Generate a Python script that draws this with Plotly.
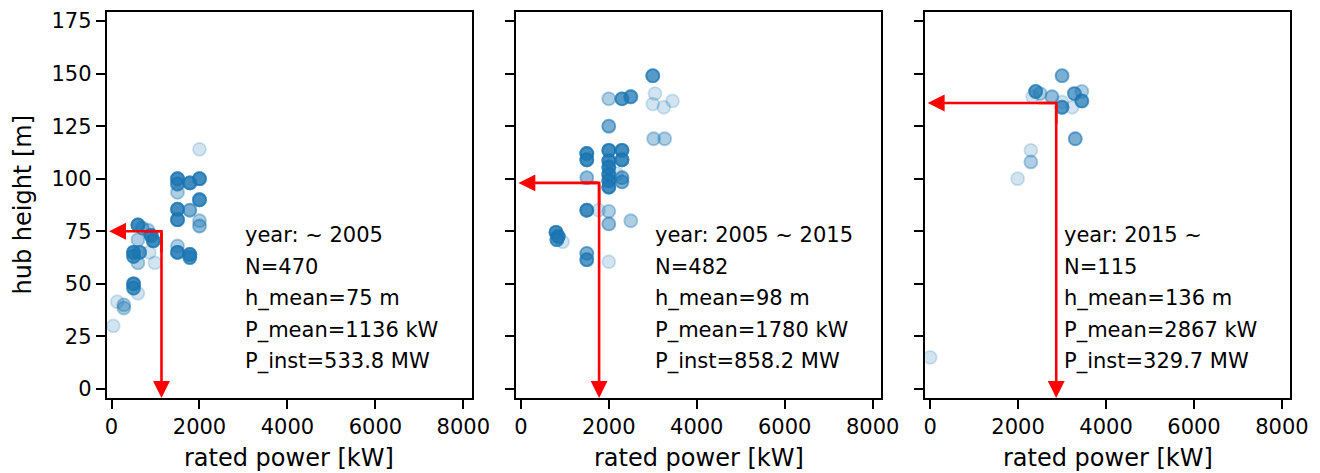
import numpy as np
import plotly.graph_objects as go

# ---------------- data ----------------
periods = ["year: ~ 2005", "year: 2005 ~ 2015", "year: 2015 ~"]
n_turbines = [470, 482, 115]
h_mean = [75, 98, 136]
p_mean = [1136, 1780, 2867]
p_inst = [533.8, 858.2, 329.7]

# panel 1 (~2005): rated power [kW], hub height [m], number of overlapping turbines
p1_power = [2000, 1500, 1500, 1780, 2000, 1500, 2000, 1500, 1780, 1500, 2000, 2000,
            1500, 1500, 1780, 1780, 600, 700, 830, 900, 950, 600, 500, 500, 640, 860,
            600, 985, 500, 500, 600, 130, 280, 280, 40]
p1_height = [114, 100, 97.5, 98, 100, 93.5, 90, 85.5, 85, 80.5, 80, 77.5,
             68, 65, 64, 62.5, 78, 76.5, 75.5, 73, 70.5, 71, 65, 63, 65, 65,
             60, 60, 50, 48, 45.5, 41.5, 40, 38.5, 30]
p1_count = [1, 8, 6, 8, 8, 2, 8, 8, 4, 8, 2, 3,
            2, 8, 8, 6, 8, 3, 2, 8, 8, 2, 8, 6, 6, 1,
            2, 1, 8, 6, 1, 1, 2, 2, 1]

# panel 2 (2005 ~ 2015)
p2_power = [3000, 3050, 3000, 3250, 3450, 2000, 2300, 2500, 3020, 3270, 2000,
            1500, 1500, 2000, 2000, 2000, 2000, 2000, 2000, 2300, 2300, 2300, 2300,
            2180, 1500, 1500, 1770, 2000, 2000, 2500, 800, 850, 820, 950, 1500, 1500, 2000]
p2_height = [149, 140.5, 135.5, 134, 137, 138, 138, 139, 119, 119, 125,
             112, 109, 113.5, 108.5, 105.5, 102, 99, 96, 113.5, 109, 100.5, 98.5,
             102.5, 100.5, 85, 85, 84.5, 78.5, 80, 74.5, 72.5, 71, 70, 64.5, 61.5, 60.5]
p2_count = [6, 1, 1, 1, 1, 2, 6, 6, 2, 2, 4,
            8, 8, 8, 8, 8, 8, 8, 8, 8, 8, 4, 4,
            1, 3, 8, 1, 2, 3, 2, 8, 8, 6, 1, 4, 6, 1]

# panel 3 (2015 ~)
p3_power = [3000, 2400, 2330, 2500, 2770, 3000, 3000, 3230, 3280, 3450, 3450,
            3300, 2290, 2290, 1990, 0]
p3_height = [149, 141.5, 139, 140.5, 139, 136.5, 134, 134, 140.5, 141.5, 137,
             119, 113.5, 108, 100, 15]
p3_count = [4, 6, 1, 2, 3, 1, 6, 1, 5, 2, 6,
            4, 1, 2, 1, 1]

x_ticks = [0, 2000, 4000, 6000, 8000]
y_ticks = [0, 25, 50, 75, 100, 125, 150, 175]

# ---------------- layout constants ----------------
W, H = 1320, 473
X_RANGE = [-110, 8190]
Y_RANGE = [-4.3, 179.3]
panels_px = [(106.7, 471.7), (516.0, 881.0), (925.3, 1290.3)]
top_px, bot_px = 12, 398
FONT = "DejaVu Sans"
BLUE = "rgba(31,119,180,0.2)"
TICK_SIZE, TEXT_SIZE, TITLE_SIZE = 21, 21, 24

fig = go.Figure()
powers = [p1_power, p2_power, p3_power]
heights = [p1_height, p2_height, p3_height]
counts = [p1_count, p2_count, p3_count]

annotations = []
for i in range(3):
    xs = np.repeat(np.array(powers[i], dtype=float), counts[i])
    ys = np.repeat(np.array(heights[i], dtype=float), counts[i])
    sfx = "" if i == 0 else str(i + 1)
    fig.add_trace(go.Scatter(
        x=xs, y=ys, mode="markers", xaxis="x" + sfx, yaxis="y" + sfx,
        marker=dict(size=13, color=BLUE, line=dict(color=BLUE, width=1.8)),
        showlegend=False, hoverinfo="skip"))

    l, r = panels_px[i]
    fig.update_layout(**{
        "xaxis" + sfx: dict(
            domain=[l / W, r / W], range=X_RANGE, anchor="y" + sfx,
            tickvals=x_ticks, ticks="outside", ticklen=9, tickwidth=2,
            tickcolor="black", showline=True, mirror=True, linecolor="black",
            linewidth=2, showgrid=False, zeroline=False, automargin=False,
            tickfont=dict(family=FONT, size=TICK_SIZE, color="black")),
        "yaxis" + sfx: dict(
            domain=[1 - bot_px / H, 1 - top_px / H], range=Y_RANGE, anchor="x" + sfx,
            tickvals=y_ticks, ticks="outside", ticklen=9, tickwidth=2,
            tickcolor="black", showline=True, mirror=True, linecolor="black",
            linewidth=2, showgrid=False, zeroline=False, automargin=False,
            showticklabels=(i == 0),
            tickfont=dict(family=FONT, size=TICK_SIZE, color="black")),
    })

    # mean arrows
    xr, yr = "x" + sfx, "y" + sfx
    arrow = dict(xref=xr, yref=yr, axref=xr, ayref=yr, text="", showarrow=True,
                 arrowcolor="red", arrowwidth=2.6, arrowhead=2, arrowsize=1.3,
                 standoff=0, startstandoff=0)
    annotations.append(dict(arrow, x=-55, y=h_mean[i], ax=p_mean[i], ay=h_mean[i]))
    annotations.append(dict(arrow, x=p_mean[i], y=Y_RANGE[0], ax=p_mean[i], ay=h_mean[i]))
    fig.add_trace(go.Scatter(
        x=[p_mean[i] - 400, p_mean[i], p_mean[i]], y=[h_mean[i], h_mean[i], h_mean[i] - 10],
        mode="lines", line=dict(color="red", width=2.6), xaxis=xr, yaxis=yr,
        showlegend=False, hoverinfo="skip"))

    # statistics text
    lines = [periods[i], f"N={n_turbines[i]}", f"h_mean={h_mean[i]} m",
             f"P_mean={p_mean[i]} kW", f"P_inst={p_inst[i]} MW"]
    for k, t in enumerate(lines):
        annotations.append(dict(
            xref=xr, yref=yr, x=3000, y=73.0 - k * 15.0, xanchor="left",
            yanchor="middle", text=t, showarrow=False,
            font=dict(family=FONT, size=TEXT_SIZE, color="black")))

    # x axis title
    annotations.append(dict(
        xref="paper", yref="paper", x=(l + r) / 2 / W, y=0,
        xanchor="center", yanchor="bottom", text="rated power [kW]", showarrow=False,
        borderpad=0, font=dict(family=FONT, size=TITLE_SIZE, color="black")))

annotations.append(dict(
    xref="paper", yref="paper", x=22.5 / W, y=1 - 205 / H, xanchor="center",
    yanchor="middle", text="hub height [m]", textangle=-90, showarrow=False,
    font=dict(family=FONT, size=TITLE_SIZE, color="black")))

fig.update_layout(
    width=W, height=H, margin=dict(l=0, r=0, t=0, b=0, autoexpand=False),
    paper_bgcolor="white", plot_bgcolor="white",
    annotations=annotations, font=dict(family=FONT, color="black"))

fig.write_html("out.html")
